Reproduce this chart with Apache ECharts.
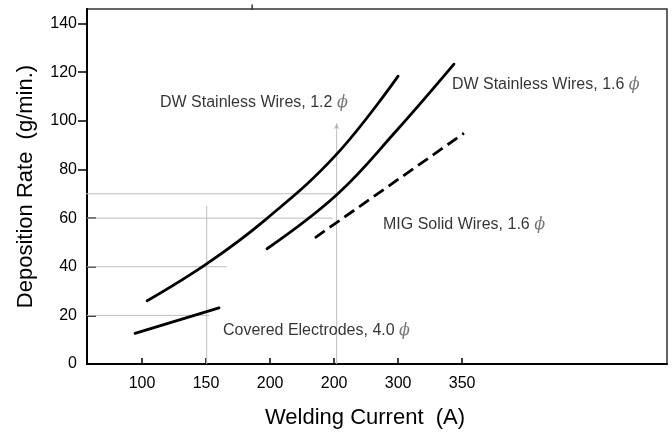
<!DOCTYPE html>
<html><head><meta charset="utf-8">
<script src="https://cdn.jsdelivr.net/npm/echarts@6/dist/echarts.min.js"></script>
<style>html,body{margin:0;padding:0;background:#fff}#c{width:672px;height:434px}</style>
</head><body><div id="c"></div>
<script>
const xTicks = [100, 150, 200, 250, 300, 350];
const xTickLabels = ['100', '150', '200', '200', '300', '350'];
const yTicksInner = [20, 40, 60];
const yTicksOuter = [80, 100, 120, 140];

const dw12 = [[104,26],[151,41.4],[196,59.2],[251.5,86],[300,118.4]];
const dw16 = [[197.6,47.4],[252.3,69.7],[298.3,95.7],[343.6,123.3]];
const mig16 = [[235,51.9],[351.4,94.9]];
const covered = [[94.5,12.6],[160.1,23.1]];

const refLines = [
  [[46,70],[252,70]],
  [[57,60],[249,60]],
  [[57,40],[166,40]],
  [[57,20],[153,20]],
  [[150.5,0],[150.5,65]],
  [[252,0],[252,99]]
];
const topMark = [[186,145.6],[186,147.8]];
const arrowTip = [[252,99]];

const annoNames = ['DW Stainless Wires, 1.2', 'DW Stainless Wires, 1.6', 'MIG Solid Wires, 1.6', 'Covered Electrodes, 4.0'];
const annoPos = [[114,107.5],[342,114.8],[288.2,57.2],[163.2,13.8]];

const FONT = "'Liberation Sans', Arial, Helvetica, sans-serif";
const chart = echarts.init(document.getElementById('c'), null, {renderer: 'canvas'});

const series = [];
refLines.forEach(d => series.push({
  type: 'line', data: d, symbol: 'none', clip: false, silent: true,
  lineStyle: {color: '#bdbdbd', width: 1}, z: 1
}));
series.push({type:'line', data: topMark, symbol:'none', clip:false, lineStyle:{color:'#333', width:1.5}, z:5});
series.push({type:'scatter', data: arrowTip, symbol:'arrow', symbolSize:[4,6], itemStyle:{color:'#aaa'}, z:2});
const curveStyle = {color:'#000', width:2.8, cap:'round'};
series.push({type:'line', data: dw12, smooth:0.4, symbol:'none', lineStyle: curveStyle, z:3});
series.push({type:'line', data: dw16, smooth:0.4, symbol:'none', lineStyle: curveStyle, z:3});
series.push({type:'line', data: mig16, symbol:'none', lineStyle: {color:'#000', width:2.8, type:[12,6]}, z:3});
series.push({type:'line', data: covered, symbol:'none', lineStyle: curveStyle, z:3});
series.push({
  type:'scatter', symbolSize:0, z:6,
  data: annoPos.map((p,i) => ({value:p, name:annoNames[i]})),
  label: {
    show:true, position:'right', distance:0,
    formatter: p => p.name + ' {p|ϕ}',
    color:'#000', fontSize:16, fontFamily: FONT,
    rich: {p: {fontFamily:"'DejaVu Serif', serif", fontStyle:'italic', fontSize:16, color:'#555'}}
  }
});

chart.setOption({
  animation: false,
  backgroundColor: '#fff',
  grid: {left:87, right:5, top:9, bottom:65, show:true, borderColor:'#333', borderWidth:1.5, backgroundColor:'transparent'},
  xAxis: {
    type:'value', min:57, max:510,
    name:'Welding Current  (A)', nameLocation:'middle', nameGap:43,
    nameTextStyle:{fontSize:22, color:'#000', fontFamily:FONT, padding:[0,24,0,0]},
    axisLine:{show:true, lineStyle:{color:'#000', width:2}},
    axisTick:{show:true, inside:true, length:6, customValues:xTicks, lineStyle:{color:'#000', width:1.5}},
    axisLabel:{customValues:xTicks, margin:12, fontSize:16, color:'#000', fontFamily:FONT,
      formatter: v => xTickLabels[xTicks.indexOf(v)]},
    splitLine:{show:false}
  },
  yAxis: [{
    type:'value', min:0, max:146, interval:20,
    name:'Deposition Rate  (g/min.)', nameLocation:'middle', nameGap:50,
    nameTextStyle:{fontSize:22, color:'#000', fontFamily:FONT},
    axisLine:{show:true, lineStyle:{color:'#000', width:2}},
    axisTick:{show:true, inside:true, length:9, customValues:yTicksInner, lineStyle:{color:'#000', width:1.5}},
    axisLabel:{margin:10, fontSize:16, color:'#000', fontFamily:FONT},
    splitLine:{show:false}
  },{
    type:'value', min:0, max:146, interval:20, position:'left',
    axisLine:{show:false},
    axisTick:{show:true, inside:false, length:9, customValues:yTicksOuter, lineStyle:{color:'#000', width:1.5}},
    axisLabel:{show:false}, splitLine:{show:false}
  }],
  series: series
});
</script></body></html>
